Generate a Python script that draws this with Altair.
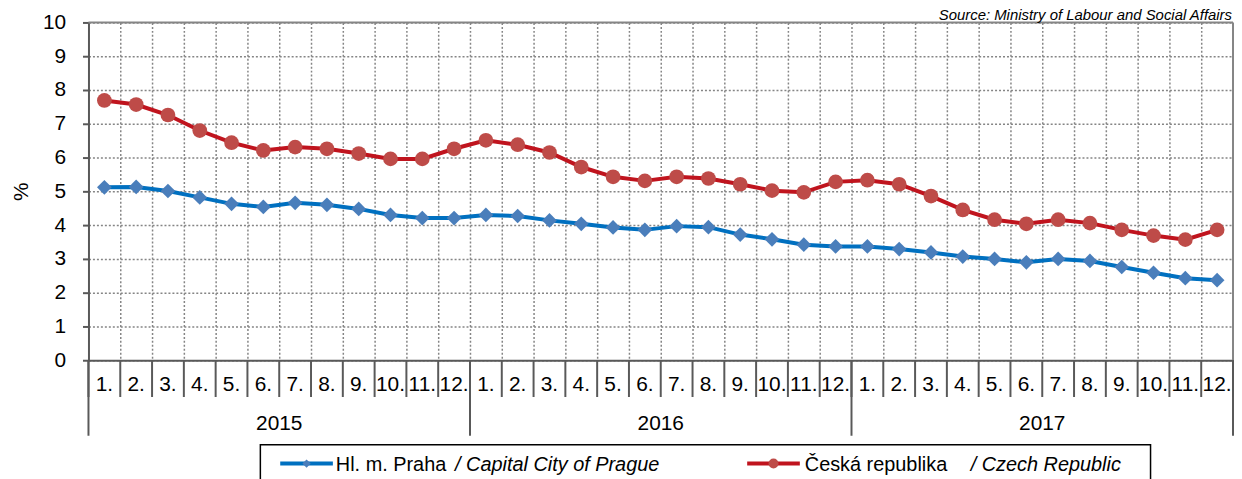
import altair as alt
import pandas as pd

# ---------------- data ----------------
years = ["2015", "2016", "2017"]
months = ["1.", "2.", "3.", "4.", "5.", "6.", "7.", "8.", "9.", "10.", "11.", "12."]
praha = [5.12, 5.13, 5.01, 4.82, 4.63, 4.54, 4.66, 4.60, 4.48, 4.30, 4.21, 4.21,
         4.30, 4.27, 4.14, 4.04, 3.93, 3.86, 3.97, 3.94, 3.72, 3.58, 3.42, 3.37,
         3.37, 3.29, 3.19, 3.07, 3.00, 2.90, 3.00, 2.94, 2.76, 2.59, 2.43, 2.37]
cesko = [7.69, 7.57, 7.26, 6.80, 6.44, 6.21, 6.31, 6.26, 6.12, 5.96, 5.96, 6.26,
         6.51, 6.38, 6.15, 5.72, 5.43, 5.31, 5.43, 5.38, 5.21, 5.02, 4.97, 5.28,
         5.33, 5.21, 4.86, 4.45, 4.16, 4.04, 4.16, 4.06, 3.86, 3.69, 3.57, 3.86]
series_keys = ["praha", "cesko"]
series_cz = ["Hl. m. Praha", "Česká republika"]
series_en = ["/ Capital City of Prague", "/ Czech Republic"]
y_ticks = list(range(0, 11))
source_text = "Source: Ministry of Labour and Social Affairs"

# ---------------- styles ----------------
FONT = "Liberation Sans"
W, H = 1152, 340
line_colors = ["#0070C0", "#C0141E"]
marker_colors = ["#4A7EBB", "#BE4B48"]
shapes = ["diamond", "circle"]
DARK = "#595959"
GRID = "#858585"

n_months = len(months) * len(years)
rows = []
for key, vals in zip(series_keys, [praha, cesko]):
    for i, v in enumerate(vals):
        rows.append({"pos": i + 0.5, "value": v, "series": key})
df = pd.DataFrame(rows)

xscale = alt.Scale(domain=[0, n_months], nice=False, zero=False)
yscale = alt.Scale(domain=[0, 10], nice=False)

x_axis = alt.Axis(values=list(range(1, n_months)), labels=False, ticks=False,
                  domain=True, domainColor=DARK, domainWidth=2,
                  grid=True, gridDash=[2, 2], gridColor=GRID, gridWidth=1.5,
                  title=None)
y_axis = alt.Axis(values=y_ticks, grid=True, gridDash=[2, 2], gridColor=GRID,
                  gridWidth=1.5, tickSize=6, tickColor=DARK, tickWidth=2,
                  domainColor=DARK, domainWidth=2, labelFontSize=21,
                  labelFont=FONT, labelColor="black", labelPadding=17,
                  labelOverlap=False,
                  title="%", titleFont=FONT, titleFontSize=21,
                  titleFontWeight="normal", titleColor="black",
                  titleAngle=270, titleX=-67, titleY=H / 2,
                  titleAlign="center", titleBaseline="middle")


def XQ(field):
    return alt.X(field + ":Q", scale=xscale, axis=x_axis)


def YQ(field):
    return alt.Y(field + ":Q", scale=yscale, axis=y_axis)


color = alt.Color("series:N", scale=alt.Scale(domain=series_keys, range=line_colors), legend=None)
fill = alt.Fill("series:N", scale=alt.Scale(domain=series_keys, range=marker_colors), legend=None)
shape = alt.Shape("series:N", scale=alt.Scale(domain=series_keys, range=shapes), legend=None)

lines = alt.Chart(df).mark_line(strokeWidth=4).encode(x=XQ("pos"), y=YQ("value"),
                                                      color=color, detail="series:N")
points = alt.Chart(df).mark_point(filled=True, opacity=1, size=220, strokeWidth=0).encode(
    x=XQ("pos"), y=YQ("value"), fill=fill, shape=shape)

# borders
top_border = alt.Chart(pd.DataFrame({"a": [0]})).mark_rule(color=GRID, strokeWidth=2).encode(
    x=alt.value(0), x2=alt.value(W), y=alt.value(0))
right_border = alt.Chart(pd.DataFrame({"a": [0]})).mark_rule(color=GRID, strokeWidth=2).encode(
    x=alt.value(W), y=alt.value(0), y2=alt.value(H))

# month separators and year separators
sep_df = pd.DataFrame({"b": list(range(0, n_months + 1))})
month_sep = alt.Chart(sep_df).mark_rule(color=DARK, strokeWidth=2).encode(
    x=XQ("b"), y=alt.value(H), y2=alt.value(H + 37))
year_sep_df = pd.DataFrame({"b": [12 * k for k in range(len(years) + 1)]})
year_sep = alt.Chart(year_sep_df).mark_rule(color=DARK, strokeWidth=2).encode(
    x=XQ("b"), y=alt.value(H), y2=alt.value(H + 76))

ml_rows = []
for yi, yr in enumerate(years):
    for mi, m in enumerate(months):
        ml_rows.append({"pos": yi * 12 + mi + 0.5, "label": m})
month_labels = alt.Chart(pd.DataFrame(ml_rows)).mark_text(
    font=FONT, fontSize=21, color="black", baseline="middle", align="center").encode(
    x=XQ("pos"), y=alt.value(H + 25), text="label:N")
yl_df = pd.DataFrame({"pos": [yi * 12 + 6 for yi in range(len(years))], "label": years})
year_labels = alt.Chart(yl_df).mark_text(
    font=FONT, fontSize=21, color="black", baseline="middle", align="center").encode(
    x=XQ("pos"), y=alt.value(H + 64), text="label:N")

source = alt.Chart(pd.DataFrame({"t": [source_text]})).mark_text(
    font=FONT, fontSize=15, fontStyle="italic", color="black", align="right",
    baseline="alphabetic").encode(x=alt.value(W - 1), y=alt.value(-2), text="t:N")

# legend (custom, to allow mixed upright / italic text)
legend_box = alt.Chart(pd.DataFrame({"a": [0]})).mark_rect(
    filled=False, stroke="black", strokeWidth=1.5).encode(
    x=alt.value(173), x2=alt.value(1069), y=alt.value(425), y2=alt.value(480))
legend_layers = [legend_box]
leg_line_x = [(193, 246), (663, 716)]
leg_text_x = [(249, 369), (721, 888)]
LY = 444
leg_sizes = [70, 100]
for i in range(2):
    one = pd.DataFrame({"cz": [series_cz[i]], "en": [series_en[i]]})
    base = alt.Chart(one)
    legend_layers.append(base.mark_rule(color=line_colors[i], strokeWidth=4).encode(
        x=alt.value(leg_line_x[i][0]), x2=alt.value(leg_line_x[i][1]), y=alt.value(LY)))
    legend_layers.append(base.mark_point(filled=True, opacity=1, size=leg_sizes[i],
                                         shape=shapes[i], color=marker_colors[i]).encode(
        x=alt.value((leg_line_x[i][0] + leg_line_x[i][1]) / 2), y=alt.value(LY)))
    legend_layers.append(base.mark_text(font=FONT, fontSize=20, color="black", align="left",
                                        baseline="middle").encode(
        x=alt.value(leg_text_x[i][0]), y=alt.value(LY + 1), text="cz:N"))
    legend_layers.append(base.mark_text(font=FONT, fontSize=20, fontStyle="italic",
                                        color="black", align="left", baseline="middle").encode(
        x=alt.value(leg_text_x[i][1]), y=alt.value(LY + 1), text="en:N"))

chart = alt.layer(
    lines, points, top_border, right_border, month_sep, year_sep,
    month_labels, year_labels, source, *legend_layers
).properties(
    width=W, height=H,
    autosize=alt.AutoSizeParams(type="none"),
    padding={"left": 81, "top": 13, "right": 1, "bottom": 118},
).configure_view(stroke=None)

chart.save("out.html", embed_options={"renderer": "svg", "actions": False})
